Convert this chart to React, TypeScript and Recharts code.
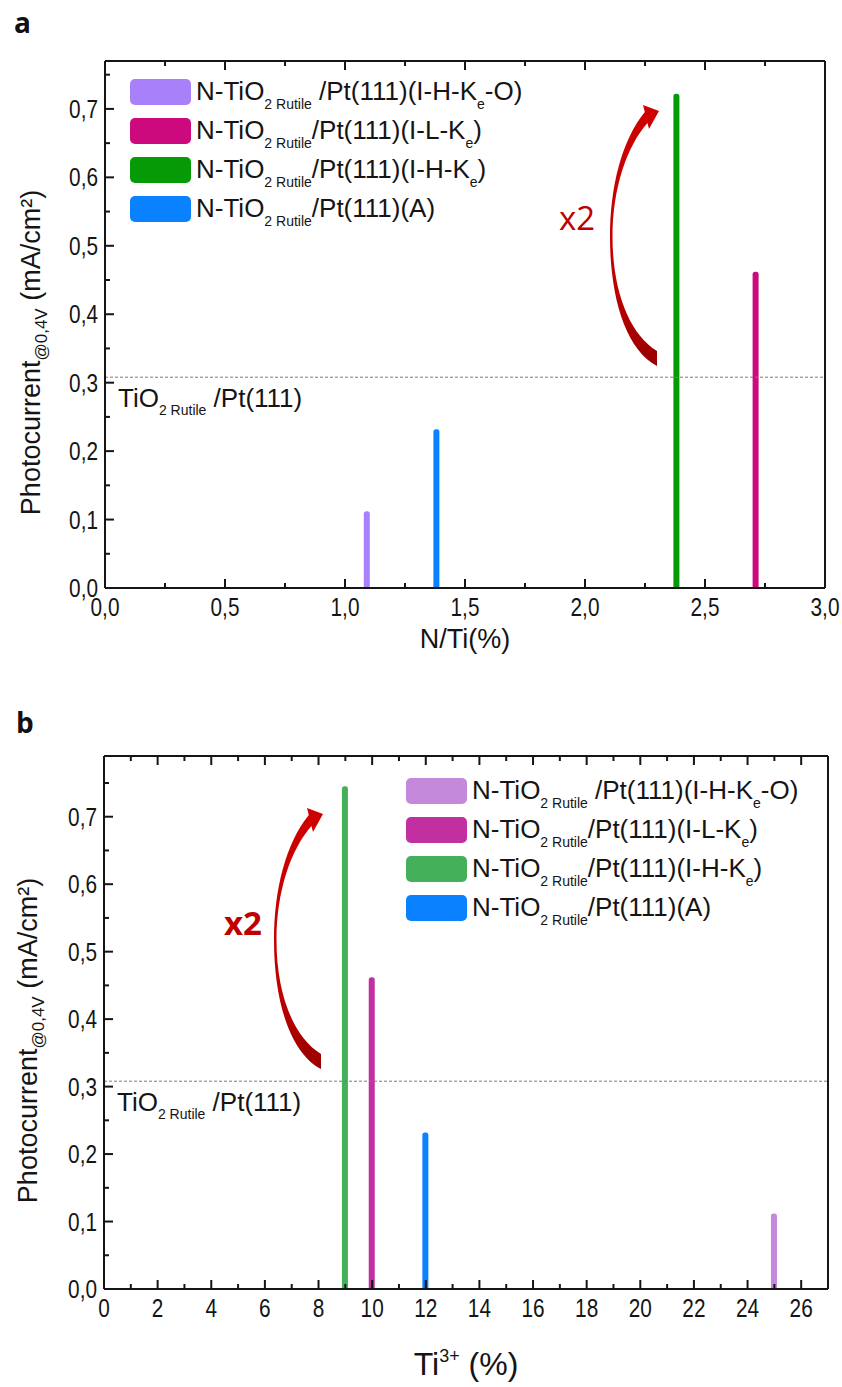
import { ComposedChart, Bar, Cell, XAxis, YAxis, ReferenceLine, Legend } from 'recharts'

const SANS = '"Liberation Sans", Arial, Helvetica, sans-serif'
const INK = '#151515'

// legend text: N-TiO2 Rutile/Pt(111)(...)
const sampleHead = 'N-TiO'
const sampleSub = '2 Rutile'
const sampleTails = [' /Pt(111)(I-H-K', '/Pt(111)(I-L-K', '/Pt(111)(I-H-K', '/Pt(111)(A)']
const sampleSubE = ['e', 'e', 'e', '']
const sampleEnds = ['-O)', ')', ')', '']

// panel a: photocurrent vs N/Ti
const nTiRatio = [1.09, 2.71, 2.38, 1.38]
const photocurrentA = [0.112, 0.462, 0.722, 0.232]
const coloursA = ['#A880FA', '#CC0A7E', '#079A07', '#0A82FF']

// panel b: photocurrent vs Ti3+
const ti3Content = [25, 10, 9, 12]
const photocurrentB = [0.112, 0.462, 0.745, 0.232]
const coloursB = ['#C489DA', '#C22FA1', '#45B05A', '#0A82FF']

// TiO2 Rutile/Pt(111) reference level
const rutileLevel = 0.308

const xTicksA = [0, 0.25, 0.5, 0.75, 1, 1.25, 1.5, 1.75, 2, 2.25, 2.5, 2.75, 3]
const xTicksB = [0, 1, 2, 3, 4, 5, 6, 7, 8, 9, 10, 11, 12, 13, 14, 15, 16, 17, 18, 19, 20, 21, 22, 23, 24, 25, 26, 27]
const yTicks = [0, 0.05, 0.1, 0.15, 0.2, 0.25, 0.3, 0.35, 0.4, 0.45, 0.5, 0.55, 0.6, 0.65, 0.7, 0.75]

type Row = { x: number; y: number; colour: string }

const rowsA: Row[] = nTiRatio.map((x, i) => ({ x, y: photocurrentA[i], colour: coloursA[i] }))
const rowsB: Row[] = ti3Content.map((x, i) => ({ x, y: photocurrentB[i], colour: coloursB[i] }))

const isMajor = (v: number, step: number) => Math.abs(v / step - Math.round(v / step)) < 1e-6
const decimal = (v: number, digits: number) => v.toFixed(digits).replace('.', ',')

// Arial-Narrow-like tick text: regular sans squeezed horizontally
function NarrowText({ x, y, anchor, children }: any) {
  return (
    <text
      transform={`translate(${x},${y}) scale(0.8,1)`}
      textAnchor={anchor}
      fontFamily={SANS}
      fontSize={26}
      fill={INK}
    >
      {children}
    </text>
  )
}

function BottomTick({ x, y, payload, step, digits }: any) {
  const major = isMajor(payload.value, step)
  return (
    <g>
      <line x1={x} x2={x} y1={y} y2={y - (major ? 9 : 5)} stroke={INK} strokeWidth={2} />
      {major && (
        <NarrowText x={x} y={y + 28} anchor="middle">
          {decimal(payload.value, digits)}
        </NarrowText>
      )}
    </g>
  )
}

function TopTick({ x, y, payload, step }: any) {
  const major = isMajor(payload.value, step)
  return <line x1={x} x2={x} y1={y} y2={y + (major ? 9 : 5)} stroke={INK} strokeWidth={2} />
}

function LeftTick({ x, y, payload }: any) {
  const major = isMajor(payload.value, 0.1)
  return (
    <g>
      <line x1={x} x2={x + (major ? 9 : 5)} y1={y} y2={y} stroke={INK} strokeWidth={2} />
      {major && (
        <NarrowText x={x - 7} y={y + 9} anchor="end">
          {decimal(payload.value, 1)}
        </NarrowText>
      )}
    </g>
  )
}

function RightTick({ x, y, payload }: any) {
  const major = isMajor(payload.value, 0.1)
  return <line x1={x} x2={x - (major ? 9 : 5)} y1={y} y2={y} stroke={INK} strokeWidth={2} />
}

function RutileLabel({ viewBox }: any) {
  return (
    <text x={viewBox.x + 13} y={viewBox.y + 30} fontFamily={SANS} fontSize={26} fill={INK}>
      TiO<tspan fontSize={14} dy={8}>2 Rutile</tspan>
      <tspan dy={-8}> /Pt(111)</tspan>
    </text>
  )
}

function PhotocurrentTitle({ viewBox, baseX, shift }: any) {
  const cy = viewBox.y + viewBox.height / 2 + shift
  return (
    <text transform={`translate(${baseX},${cy}) rotate(-90)`} textAnchor="middle" fontFamily={SANS} fontSize={27} fill={INK}>
      Photocurrent<tspan fontSize={17} dy={7}>@0,4V</tspan>
      <tspan dy={-7}> (mA/cm²)</tspan>
    </text>
  )
}

function NTiTitle({ viewBox }: any) {
  return (
    <text x={viewBox.x + viewBox.width / 2} y={viewBox.y + 60} textAnchor="middle" fontFamily={SANS} fontSize={27} fill={INK}>
      N/Ti(%)
    </text>
  )
}

function Ti3Title({ viewBox }: any) {
  return (
    <text x={viewBox.x + viewBox.width / 2} y={viewBox.y + 86} textAnchor="middle" fontFamily={SANS} fontSize={32} fill={INK}>
      Ti<tspan fontSize={18} dy={-13}>3+</tspan>
      <tspan dy={13}> (%)</tspan>
    </text>
  )
}

function SampleLegend({ colours }: { colours: string[] }) {
  return (
    <div style={{ fontFamily: SANS, fontSize: 26, color: INK }}>
      {sampleTails.map((tail, i) => (
        <div key={i} style={{ display: 'flex', alignItems: 'center', height: 39, whiteSpace: 'nowrap' }}>
          <span style={{ width: 61, height: 26, borderRadius: 5, background: colours[i], marginRight: 5, flex: 'none' }} />
          <span>
            {sampleHead}
            <span style={{ fontSize: 14, position: 'relative', top: 9 }}>{sampleSub}</span>
            {tail}
            <span style={{ fontSize: 14, position: 'relative', top: 9 }}>{sampleSubE[i]}</span>
            {sampleEnds[i]}
          </span>
        </div>
      ))}
    </div>
  )
}

interface PanelProps {
  rows: Row[]
  colours: string[]
  height: number
  margin: { top: number; right: number; bottom: number; left: number }
  xMax: number
  xTicks: number[]
  xStep: number
  xDigits: number
  yMax: number
  xTitle: any
  titleX: number
  titleShift: number
  legendPos: { left: number; top: number }
}

function Panel(p: PanelProps) {
  const frame = { stroke: INK, strokeWidth: 2 }
  return (
    <ComposedChart width={842} height={p.height} data={p.rows} margin={p.margin}>
      <XAxis
        xAxisId="bottom"
        dataKey="x"
        type="number"
        domain={[0, p.xMax]}
        ticks={p.xTicks}
        interval={0}
        height={1}
        tickLine={false}
        tickSize={0}
        tickMargin={0}
        axisLine={frame}
        tick={(t: any) => <BottomTick {...t} step={p.xStep} digits={p.xDigits} />}
        label={p.xTitle}
      />
      <XAxis
        xAxisId="top"
        orientation="top"
        dataKey="x"
        type="number"
        domain={[0, p.xMax]}
        ticks={p.xTicks}
        interval={0}
        height={1}
        tickLine={false}
        tickSize={0}
        tickMargin={0}
        axisLine={frame}
        tick={(t: any) => <TopTick {...t} step={p.xStep} />}
      />
      <YAxis
        yAxisId="left"
        type="number"
        domain={[0, p.yMax]}
        ticks={yTicks}
        interval={0}
        width={1}
        tickLine={false}
        tickSize={0}
        tickMargin={0}
        axisLine={frame}
        tick={(t: any) => <LeftTick {...t} />}
        label={(l: any) => <PhotocurrentTitle {...l} baseX={p.titleX} shift={p.titleShift} />}
      />
      <YAxis
        yAxisId="right"
        orientation="right"
        type="number"
        domain={[0, p.yMax]}
        ticks={yTicks}
        interval={0}
        width={1}
        tickLine={false}
        tickSize={0}
        tickMargin={0}
        axisLine={frame}
        tick={(t: any) => <RightTick {...t} />}
      />
      <ReferenceLine
        xAxisId="bottom"
        yAxisId="left"
        y={rutileLevel}
        stroke="#7a7a7a"
        strokeWidth={1}
        strokeDasharray="3 2"
        label={(l: any) => <RutileLabel {...l} />}
      />
      <Bar
        xAxisId="bottom"
        yAxisId="left"
        dataKey="y"
        barSize={6}
        radius={[2.5, 2.5, 0, 0]}
        isAnimationActive={false}
      >
        {p.rows.map((r, i) => (
          <Cell key={i} fill={r.colour} />
        ))}
      </Bar>
      <Legend
        layout="vertical"
        align="center"
        verticalAlign="middle"
        wrapperStyle={{ left: p.legendPos.left, top: p.legendPos.top, width: 460 }}
        content={() => <SampleLegend colours={p.colours} />}
      />
    </ComposedChart>
  )
}

// curved "x2" arrow, drawn for panel a and shifted for panel b
const arrowPath =
  'M657,351 C629,334 612.5,290 612.5,237 C612.5,188 627,146 647.5,123 L649,129 L659,111 L643,105 L644.8,112 ' +
  'C622,140 610,186 610,237 C610,296 625,349 657,366 Z'

export default function App() {
  return (
    <div style={{ position: 'relative', width: 842, height: 1387, background: '#fff' }}>
      <style>{'body{margin:0}'}</style>
      <div style={{ position: 'absolute', left: 0, top: 0 }}>
        <Panel
          rows={rowsA}
          colours={coloursA}
          height={680}
          margin={{ top: 60, right: 16, bottom: 91, left: 104 }}
          xMax={3}
          xTicks={xTicksA}
          xStep={0.5}
          xDigits={1}
          yMax={0.77}
          xTitle={(l: any) => <NTiTitle {...l} />}
          titleX={40}
          titleShift={28}
          legendPos={{ left: 130, top: 72 }}
        />
      </div>
      <div style={{ position: 'absolute', left: 0, top: 680 }}>
        <Panel
          rows={rowsB}
          colours={coloursB}
          height={707}
          margin={{ top: 75, right: 13, bottom: 97, left: 103 }}
          xMax={27}
          xTicks={xTicksB}
          xStep={2}
          xDigits={0}
          yMax={0.79}
          xTitle={(l: any) => <Ti3Title {...l} />}
          titleX={37}
          titleShift={18}
          legendPos={{ left: 406, top: 91 }}
        />
      </div>
      <svg width={842} height={1387} style={{ position: 'absolute', left: 0, top: 0, pointerEvents: 'none' }}>
        <defs>
          <linearGradient id="arrowRed" x1="0" y1="0" x2="0" y2="1">
            <stop offset="0" stopColor="#D00000" />
            <stop offset="0.7" stopColor="#C00000" />
            <stop offset="1" stopColor="#990000" />
          </linearGradient>
        </defs>
        <text x={14} y={33} fontFamily='"Open Sans", sans-serif' fontWeight={700} fontSize={28} fill="#111">a</text>
        <text x={16} y={733} fontFamily='"Open Sans", sans-serif' fontWeight={700} fontSize={28} fill="#111">b</text>
        <path d={arrowPath} fill="url(#arrowRed)" />
        <text x={577} y={230} textAnchor="middle" fontFamily='"Open Sans", sans-serif' fontSize={33} fill="#C00000">x2</text>
        <g transform="translate(-336,703)">
          <path d={arrowPath} fill="url(#arrowRed)" />
        </g>
        <text x={243} y={935} textAnchor="middle" fontFamily='"Open Sans", sans-serif' fontWeight={700} fontSize={33} fill="#C00000">x2</text>
      </svg>
    </div>
  )
}
